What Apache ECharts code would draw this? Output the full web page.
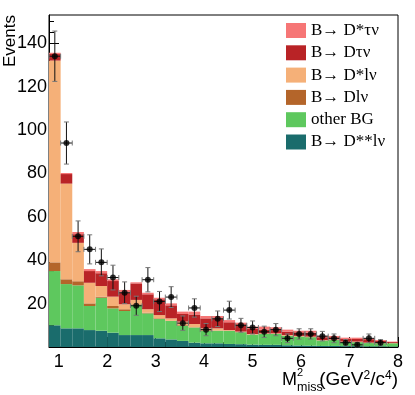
<!DOCTYPE html>
<html lang="en">
<head>
    <meta charset="UTF-8">
    <title>Missing mass squared</title>
    <script src="https://cdn.jsdelivr.net/npm/echarts@6/dist/echarts.min.js"></script>
    <style type="text/css">
        html, body { margin: 0; padding: 0; background: #fff; }
        #chart { width: 415px; height: 395px; }
    </style>
</head>
<body>
<div id="chart"></div>
<script type="text/javascript">
    // binning: 30 bins from 0.8 to 8.0
    var binLow = 0.8;
    var binWidth = 0.24;

    // per-component contributions in each bin (stacked bottom -> top)
    var dssLnu = [10, 8.6, 8.6, 7.8, 7.5, 6.6, 5.5, 5.5, 5.5, 4, 3.5, 2.8, 2, 1.7, 1.7, 1.4, 1.3, 1.1, 1, 1, 0.8, 0.7, 0.6, 0.5, 0.5, 0.4, 0.4, 0.3, 0.3, 0.2];
    var otherBG = [25, 20.4, 19.8, 11.1, 15.2, 11.2, 11.1, 13.9, 10, 8.9, 8.5, 7, 7, 5.8, 5.8, 6, 5.5, 4.6, 5, 5, 4.3, 4.1, 3.9, 2.5, 2.7, 1.8, 1.8, 1.5, 1.4, 1.5];
    var dLnu = [4, 2.2, 1.9, 1.2, 0.5, 1.1, 0.8, 0.3, 0.3, 0.3, 0.1, 0.3, 0.1, 0.3, 0.1, 0.1, 0.1, 0.1, 0.1, 0.1, 0.1, 0.1, 0.1, 0.1, 0.1, 0.1, 0.1, 0.1, 0.1, 0.1];
    var dsLnu = [93, 44.1, 17.7, 9.5, 4.9, 4.3, 2.3, 2, 1.6, 1.5, 1.1, 1.6, 1.5, 0.8, 1, 0.3, 0.2, 0.2, 0.2, 0.2, 0.3, 0.2, 0.2, 0.1, 0.2, 0.2, 0.2, 0.1, 0.1, 0.1];
    var dTaunu = [3, 4.4, 4, 5.4, 5.9, 7.2, 5.3, 7.6, 6.9, 7.3, 6, 3.5, 4.4, 4.6, 4.3, 3.6, 3.4, 2.3, 1.7, 1.5, 1.6, 1.7, 1.8, 1.3, 1, 1.2, 1.2, 1.6, 0.9, 0.4];
    var dsTaunu = [0.6, 0.5, 1, 0.9, 1, 0.8, 1.3, 0.5, 0.7, 0.7, 0.9, 1.1, 1.3, 1.1, 1.4, 1, 0.7, 1.1, 1.4, 1.3, 0.9, 0.7, 0.9, 0.6, 0.6, 0.6, 0.6, 0.4, 0.4, 0.2];

    // data points and their errors
    var dataCounts = [134, 94, 51, 45, 39, 32, 25, 19, 31, 21, 23, 11, 18, 8, 13, 17, 10, 9, 7, 8, 4, 6, 6, 5, 4, 2, 1, 4, 2, null];
    var dataErrors = [11.6, 9.7, 7.1, 6.7, 6.2, 5.7, 5, 4.4, 5.6, 4.6, 4.8, 3.3, 4.2, 2.8, 3.6, 4.1, 3.2, 3, 2.6, 2.8, 2, 2.4, 2.4, 2.2, 2, 1.4, 1, 2, 1.4, null];

    var xMajorTicks = [1, 2, 3, 4, 5, 6, 7, 8];
    var yMajorTicks = [0, 20, 40, 60, 80, 100, 120, 140];

    var layers = [
        {name: 'B\u2192 D**l\u03bd', values: dssLnu, color: '#1a6c6c'},
        {name: 'other BG', values: otherBG, color: '#5ec85e'},
        {name: 'B\u2192 Dl\u03bd', values: dLnu, color: '#b4652a'},
        {name: 'B\u2192 D*l\u03bd', values: dsLnu, color: '#f5b078'},
        {name: 'B\u2192 D\u03c4\u03bd', values: dTaunu, color: '#b92326'},
        {name: 'B\u2192 D*\u03c4\u03bd', values: dsTaunu, color: '#f67676'}
    ];

    var chart = echarts.init(document.getElementById('chart'));
    var series = [];
    var base = dssLnu.map(function () { return 0; });

    function renderBin(params, api) {
        var p1 = api.coord([api.value(0), api.value(3)]);
        var p2 = api.coord([api.value(1), api.value(2)]);
        return {
            type: 'rect',
            shape: {x: p1[0], y: p1[1], width: p2[0] - p1[0], height: p2[1] - p1[1]},
            style: {fill: api.visual('color')}
        };
    }

    layers.forEach(function (layer) {
        var items = [];
        for (var i = 0; i < layer.values.length; i++) {
            var lo = binLow + binWidth * i;
            items.push([lo, lo + binWidth, base[i], base[i] + layer.values[i]]);
            base[i] += layer.values[i];
        }
        series.push({
            name: layer.name,
            type: 'custom',
            renderItem: renderBin,
            itemStyle: {color: layer.color},
            encode: {x: [0, 1], y: [2, 3]},
            data: items,
            clip: true,
            silent: true
        });
    });

    var points = [];
    for (var i = 0; i < dataCounts.length; i++) {
        if (dataCounts[i] === null) continue;
        points.push([binLow + binWidth * (i + 0.5), dataCounts[i], dataErrors[i]]);
    }

    series.push({
        name: 'errors',
        type: 'custom',
        silent: true,
        data: points,
        encode: {x: 0, y: 1},
        z: 5,
        renderItem: function (params, api) {
            var x = api.value(0), y = api.value(1), e = api.value(2);
            var top = api.coord([x, y + e]);
            var bot = api.coord([x, y - e]);
            var left = api.coord([x - binWidth / 2, y]);
            var right = api.coord([x + binWidth / 2, y]);
            var line = {stroke: '#111', lineWidth: 1};
            var cap = {stroke: '#777', lineWidth: 1};
            return {
                type: 'group',
                children: [
                    {type: 'line', shape: {x1: top[0], y1: top[1], x2: bot[0], y2: bot[1]}, style: line},
                    {type: 'line', shape: {x1: left[0], y1: left[1], x2: right[0], y2: right[1]}, style: line},
                    {type: 'line', shape: {x1: top[0] - 2.5, y1: top[1], x2: top[0] + 2.5, y2: top[1]}, style: cap},
                    {type: 'line', shape: {x1: bot[0] - 2.5, y1: bot[1], x2: bot[0] + 2.5, y2: bot[1]}, style: cap},
                    {type: 'line', shape: {x1: left[0], y1: left[1] - 2.5, x2: left[0], y2: left[1] + 2.5}, style: cap},
                    {type: 'line', shape: {x1: right[0], y1: right[1] - 2.5, x2: right[0], y2: right[1] + 2.5}, style: cap}
                ]
            };
        }
    });

    series.push({
        name: 'data',
        type: 'scatter',
        data: points.map(function (p) { return [p[0], p[1]]; }),
        symbol: 'circle',
        symbolSize: 6,
        itemStyle: {color: '#000'},
        z: 6,
        silent: true
    });

    function isMultiple(v, step) {
        return Math.abs(v / step - Math.round(v / step)) < 1e-6;
    }

    var labelFont = {fontFamily: 'Liberation Sans', fontSize: 18, color: '#000'};

    var option = {
        animation: false,
        backgroundColor: '#fff',
        grid: {left: 49, right: 17, top: 15, bottom: 48, show: true, borderColor: '#000', borderWidth: 1, backgroundColor: 'transparent'},
        legend: {
            data: ['B\u2192 D*\u03c4\u03bd', 'B\u2192 D\u03c4\u03bd', 'B\u2192 D*l\u03bd', 'B\u2192 Dl\u03bd', 'other BG', 'B\u2192 D**l\u03bd'],
            orient: 'vertical',
            left: 281,
            top: 17,
            itemWidth: 20,
            itemHeight: 15,
            itemGap: 5.3,
            itemStyle: {borderWidth: 0},
            icon: 'rect',
            textStyle: {fontFamily: 'Liberation Serif', fontSize: 17, color: '#000', lineHeight: 15},
            selectedMode: false
        },
        xAxis: [{
            type: 'value', min: 0.8, max: 8, interval: 0.2,
            axisLine: {lineStyle: {color: '#000'}},
            axisTick: {inside: true, length: 5, lineStyle: {color: '#000'}},
            splitLine: {show: false},
            axisLabel: Object.assign({
                margin: 6,
                showMinLabel: true, showMaxLabel: true,
                formatter: function (v) { return isMultiple(v, 1) ? String(Math.round(v)) : ''; }
            }, labelFont)
        }, {
            type: 'value', min: 0.8, max: 8, position: 'bottom',
            axisLine: {show: false},
            axisTick: {inside: true, length: 10, customValues: xMajorTicks, lineStyle: {color: '#000'}},
            axisLabel: {show: false},
            splitLine: {show: false}
        }],
        yAxis: [{
            type: 'value', min: 0, max: 153, interval: 5,
            axisLine: {show: true, lineStyle: {color: '#000'}},
            axisTick: {show: true, inside: true, length: 5, lineStyle: {color: '#000'}},
            splitLine: {show: false},
            axisLabel: Object.assign({
                margin: 2,
                showMinLabel: false, showMaxLabel: false,
                formatter: function (v) { return (v > 0 && isMultiple(v, 20)) ? String(v) : ''; }
            }, labelFont)
        }, {
            type: 'value', min: 0, max: 153, position: 'left',
            axisLine: {show: false},
            axisTick: {show: true, inside: true, length: 10, customValues: yMajorTicks, lineStyle: {color: '#000'}},
            axisLabel: {show: false},
            splitLine: {show: false}
        }],
        graphic: [
            {
                type: 'text', x: 19, y: 15, rotation: Math.PI / 2,
                style: {text: 'Events', fontFamily: 'Liberation Sans', fontSize: 17, fill: '#000', align: 'right', verticalAlign: 'bottom'}
            },
            {
                type: 'text', x: 297, y: 380,
                style: {text: 'M', fontFamily: 'Liberation Sans', fontSize: 18, fill: '#000', align: 'right', verticalAlign: 'middle'}
            },
            {
                type: 'text', x: 297, y: 373,
                style: {text: '2', fontFamily: 'Liberation Sans', fontSize: 11, fill: '#000', align: 'left', verticalAlign: 'middle'}
            },
            {
                type: 'text', x: 297, y: 388,
                style: {text: 'miss', fontFamily: 'Liberation Sans', fontSize: 12.5, fill: '#000', align: 'left', verticalAlign: 'middle'}
            },
            {
                type: 'text', x: 398, y: 380,
                style: {
                    text: '(GeV{sup|2}/c{sup|4})',
                    fontFamily: 'Liberation Sans', fontSize: 19, fill: '#000', align: 'right', verticalAlign: 'middle',
                    rich: {sup: {fontFamily: 'Liberation Sans', fontSize: 12, verticalAlign: 'top', padding: [0, 0, 8, 0]}}
                }
            }
        ],
        series: series
    };
    series.forEach(function (s) { s.xAxisIndex = 0; s.yAxisIndex = 0; });
    chart.setOption(option);
</script>
</body>
</html>
